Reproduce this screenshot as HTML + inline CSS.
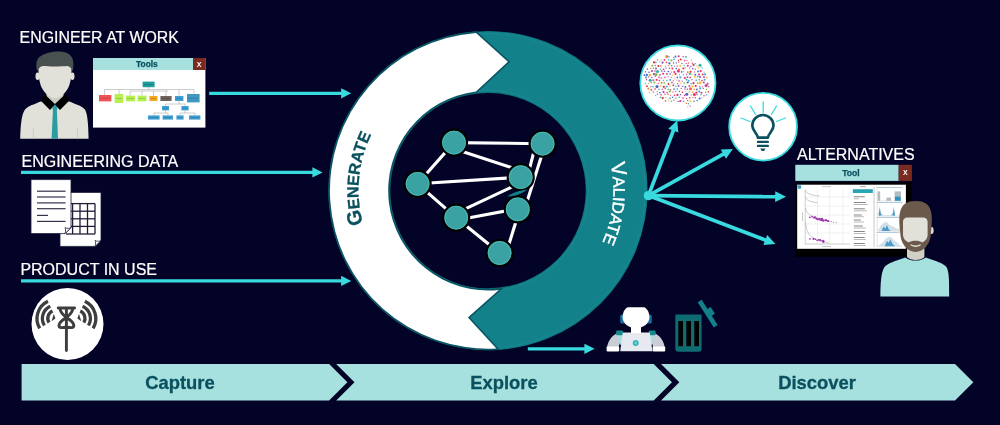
<!DOCTYPE html>
<html lang="en"><head><meta charset="utf-8"><title>Capture · Explore · Discover</title>
<style>
html,body{margin:0;padding:0;background:#030327;}
body{width:1000px;height:425px;overflow:hidden;font-family:"Liberation Sans",sans-serif;}
svg{display:block;will-change:transform;}
</style></head><body>
<svg width="1000" height="425" viewBox="0 0 1000 425" font-family="'Liberation Sans', sans-serif">
<rect width="1000" height="425" fill="#030327"/>
<text x="19.6" y="43.4" font-size="15.9" fill="#fff" stroke="#fff" stroke-width="0.2">ENGINEER AT WORK</text>
<text x="21.5" y="167" font-size="16" fill="#fff" stroke="#fff" stroke-width="0.2">ENGINEERING DATA</text>
<text x="20.4" y="274.6" font-size="16" fill="#fff" stroke="#fff" stroke-width="0.2">PRODUCT IN USE</text>
<text x="797" y="159.8" font-size="16" fill="#fff" stroke="#fff" stroke-width="0.2" textLength="117.6" lengthAdjust="spacingAndGlyphs">ALTERNATIVES</text>
<line x1="209.20" y1="93.30" x2="342.10" y2="93.30" stroke="#39dadf" stroke-width="3.2"/><polygon points="351.30,93.30 341.10,98.40 341.10,88.20" fill="#39dadf"/>
<line x1="21.00" y1="172.40" x2="313.40" y2="172.40" stroke="#39dadf" stroke-width="3.2"/><polygon points="322.60,172.40 312.40,177.50 312.40,167.30" fill="#39dadf"/>
<line x1="21.00" y1="280.90" x2="342.10" y2="280.90" stroke="#39dadf" stroke-width="3.2"/><polygon points="351.30,280.90 341.10,286.00 341.10,275.80" fill="#39dadf"/>
<line x1="527.80" y1="348.80" x2="585.40" y2="348.80" stroke="#39dadf" stroke-width="3.2"/><polygon points="594.60,348.80 584.40,353.90 584.40,343.70" fill="#39dadf"/>
<circle cx="488.0" cy="190.6" r="128.7" fill="none" stroke="#0c6671" stroke-width="61.999999999999986"/>
<circle cx="488.0" cy="190.6" r="128.7" fill="none" stroke="#12818a" stroke-width="60.79999999999998"/>
<circle cx="488.0" cy="190.6" r="157.1" fill="none" stroke="#1d8c93" stroke-width="1" opacity="0.7"/>
<circle cx="488.0" cy="190.6" r="100.3" fill="none" stroke="#1d8c93" stroke-width="1" opacity="0.7"/>
<path d="M476.00,32.96 L507.9,61.8 L476.00,91.42 A99.9,99.9 0 0 0 498.80,289.91 L467.9,317.5 L496.40,348.48 A158.1,158.1 0 0 1 476.00,32.96 Z" fill="#fff" stroke="#0a5564" stroke-width="3.2" stroke-linejoin="miter" paint-order="stroke"/>
<defs><path id="pg" d="M358.5,190.6 A129.5,129.5 0 1 1 617.5,190.6 A129.5,129.5 0 1 1 358.5,190.6"/><path id="pv" d="M488.0,65.1 A125.5,125.5 0 1 1 488.0,316.1 A125.5,125.5 0 1 1 488.0,65.1"/></defs>
<g transform="rotate(-15 488.0 190.6)"><text aria-label="GENERATE" font-weight="bold" fill="#0a505f" stroke="#0a505f" stroke-width="0.3" font-size="16.2"><textPath href="#pg" startOffset="0"><tspan font-size="20.3">G</tspan>ENERATE</textPath></text></g>
<g transform="rotate(-12.6 488.0 190.6)"><text aria-label="VALIDATE" fill="#fff" stroke="#fff" stroke-width="0.45" font-size="16.4"><textPath href="#pv" startOffset="197.13"><tspan font-size="20.5">V</tspan>ALIDATE</textPath></text></g>
<line x1="454" y1="142.6" x2="542.6" y2="143.7" stroke="#fff" stroke-width="3.1"/><line x1="454" y1="142.6" x2="417.6" y2="183.8" stroke="#fff" stroke-width="3.1"/><line x1="454" y1="148.7" x2="520.7" y2="170.6" stroke="#fff" stroke-width="3.1"/><line x1="417.6" y1="183.8" x2="520.7" y2="177.2" stroke="#fff" stroke-width="3.1"/><line x1="417.6" y1="183.8" x2="456.2" y2="217.7" stroke="#fff" stroke-width="3.1"/><line x1="456.2" y1="213.2" x2="520.7" y2="182.8" stroke="#fff" stroke-width="3.1"/><line x1="456.2" y1="220.3" x2="517.8" y2="208.6" stroke="#fff" stroke-width="3.1"/><line x1="456.2" y1="217.7" x2="499.6" y2="253" stroke="#fff" stroke-width="3.1"/><line x1="536" y1="143.7" x2="527.3" y2="177.2" stroke="#fff" stroke-width="3.1"/><line x1="519.8" y1="209.3" x2="506.2" y2="253" stroke="#fff" stroke-width="3.1"/><line x1="545.3" y1="144" x2="524.6" y2="209.3" stroke="#fff" stroke-width="3.1"/><circle cx="454" cy="142.6" r="13" fill="#3aa2a3" stroke="#000" stroke-width="2.2"/><circle cx="454" cy="142.6" r="11.4" fill="none" stroke="#4fbcbc" stroke-width="0.8"/><circle cx="542.6" cy="143.7" r="13" fill="#3aa2a3" stroke="#000" stroke-width="2.2"/><circle cx="542.6" cy="143.7" r="11.4" fill="none" stroke="#4fbcbc" stroke-width="0.8"/><circle cx="417.6" cy="183.8" r="13" fill="#3aa2a3" stroke="#000" stroke-width="2.2"/><circle cx="417.6" cy="183.8" r="11.4" fill="none" stroke="#4fbcbc" stroke-width="0.8"/><circle cx="520.7" cy="177.2" r="13" fill="#3aa2a3" stroke="#000" stroke-width="2.2"/><circle cx="520.7" cy="177.2" r="11.4" fill="none" stroke="#4fbcbc" stroke-width="0.8"/><circle cx="456.2" cy="217.7" r="13" fill="#3aa2a3" stroke="#000" stroke-width="2.2"/><circle cx="456.2" cy="217.7" r="11.4" fill="none" stroke="#4fbcbc" stroke-width="0.8"/><circle cx="517.8" cy="209.3" r="13" fill="#3aa2a3" stroke="#000" stroke-width="2.2"/><circle cx="517.8" cy="209.3" r="11.4" fill="none" stroke="#4fbcbc" stroke-width="0.8"/><circle cx="499.6" cy="253" r="13" fill="#3aa2a3" stroke="#000" stroke-width="2.2"/><circle cx="499.6" cy="253" r="11.4" fill="none" stroke="#4fbcbc" stroke-width="0.8"/>
<path d="M507.5,196.4 C512,193 519,190.6 527.5,189.6 C523,193.4 515,196.6 507.5,196.4Z" fill="#12818a"/>
<line x1="648.40" y1="195.60" x2="673.69" y2="129.75" stroke="#39dadf" stroke-width="3.7"/><polygon points="677.20,120.60 678.37,132.62 668.29,128.75" fill="#39dadf"/>
<line x1="648.40" y1="195.60" x2="724.23" y2="153.64" stroke="#39dadf" stroke-width="3.7"/><polygon points="732.80,148.90 725.96,158.85 720.74,149.40" fill="#39dadf"/>
<line x1="648.40" y1="195.60" x2="776.20" y2="196.71" stroke="#39dadf" stroke-width="3.7"/><polygon points="786.00,196.80 775.15,202.11 775.25,191.31" fill="#39dadf"/>
<line x1="648.40" y1="195.60" x2="766.24" y2="240.42" stroke="#39dadf" stroke-width="3.7"/><polygon points="775.40,243.90 763.39,245.11 767.22,235.01" fill="#39dadf"/>
<circle cx="648.4" cy="195.6" r="4.7" fill="#39dadf"/>
<circle cx="677.9" cy="82.9" r="37.6" fill="#fff" stroke="#39dadf" stroke-width="1.8"/>
<path d="M666.8,56.6L669.0,56.7M669.0,56.7L668.7,59.8M673.6,57.3L675.5,56.5M675.5,56.5L678.7,56.2M675.5,56.5L674.0,59.3M678.7,56.2L680.6,59.4M683.1,56.4L686.0,56.8M683.1,56.4L684.6,60.6M657.6,60.0L654.0,62.3M657.6,60.0L659.8,62.1M661.1,60.0L664.5,59.8M661.1,60.0L659.8,62.1M664.5,59.8L662.6,62.6M668.7,59.8L669.4,63.4M671.4,60.4L674.0,59.3M671.4,60.4L669.4,63.4M671.4,60.4L673.6,63.0M674.0,59.3L673.6,63.0M684.6,60.6L687.0,60.6M684.6,60.6L686.2,63.5M654.0,62.3L655.9,62.4M654.0,62.3L652.3,65.8M654.0,62.3L655.2,65.5M655.9,62.4L655.2,65.5M662.6,62.6L660.8,65.9M669.4,63.4L671.6,65.8M676.4,62.9L677.1,66.1M678.8,62.0L680.2,65.9M681.9,63.4L686.2,63.5M681.9,63.4L680.2,65.9M686.2,63.5L684.2,65.3M688.4,63.0L687.8,65.7M692.3,63.1L695.3,63.6M652.3,65.8L655.2,65.5M655.2,65.5L656.0,68.6M658.4,65.9L656.0,68.6M660.8,65.9L660.4,69.2M665.5,66.3L663.5,69.3M665.5,66.3L669.5,68.3M668.4,65.5L671.6,65.8M668.4,65.5L666.0,68.1M671.6,65.8L672.4,68.5M677.1,66.1L679.1,69.2M680.2,65.9L684.2,65.3M680.2,65.9L683.4,68.5M684.2,65.3L685.2,67.9M687.8,65.7L685.2,67.9M690.9,66.4L693.6,64.9M690.9,66.4L692.7,68.7M693.6,64.9L692.7,68.7M660.4,69.2L661.8,71.0M660.4,69.2L664.4,71.3M666.0,68.1L664.4,71.3M669.5,68.3L672.4,68.5M669.5,68.3L668.3,71.6M672.4,68.5L674.3,72.0M676.3,68.6L678.4,70.9M679.1,69.2L683.4,68.5M679.1,69.2L681.7,71.9M683.4,68.5L685.2,67.9M692.7,68.7L695.3,69.1M695.3,69.1L694.6,72.0M698.1,68.0L702.1,67.9M702.1,67.9L700.7,71.1M645.5,71.8L649.0,72.3M645.5,71.8L644.4,75.2M645.5,71.8L646.9,74.9M649.0,72.3L652.0,71.1M655.0,71.0L653.9,74.2M655.0,71.0L656.0,74.4M657.5,71.5L653.9,74.2M661.8,71.0L663.1,73.7M664.4,71.3L668.3,71.6M668.3,71.6L671.4,72.0M671.4,72.0L670.1,74.0M674.3,72.0L678.4,70.9M674.3,72.0L675.5,73.9M678.4,70.9L675.5,73.9M678.4,70.9L679.4,74.8M681.7,71.9L679.4,74.8M683.7,71.5L686.6,74.5M690.6,71.7L694.6,72.0M690.6,71.7L689.8,73.8M690.6,71.7L691.9,74.5M694.6,72.0L691.9,74.5M694.6,72.0L695.3,74.8M698.0,71.5L700.7,71.1M704.1,72.1L705.1,74.3M644.4,75.2L646.9,74.9M646.9,74.9L649.8,75.1M646.9,74.9L648.6,76.9M653.9,74.2L656.0,74.4M653.9,74.2L655.2,76.6M656.0,74.4L660.0,74.9M656.0,74.4L659.0,77.4M660.0,74.9L663.1,73.7M660.0,74.9L661.3,77.9M663.1,73.7L666.9,73.8M663.1,73.7L664.9,77.4M666.9,73.8L668.3,76.7M672.6,74.9L675.2,78.1M686.6,74.5L687.5,77.1M689.8,73.8L687.5,77.1M691.9,74.5L695.3,74.8M695.3,74.8L697.7,76.6M699.1,74.5L697.7,76.6M702.7,74.6L700.0,77.0M646.0,77.4L646.5,79.8M648.6,76.9L651.8,77.4M648.6,76.9L646.5,79.8M651.8,77.4L653.2,80.2M655.2,76.6L653.2,80.2M661.3,77.9L664.9,77.4M661.3,77.9L659.4,80.5M661.3,77.9L663.3,80.4M664.9,77.4L668.3,76.7M664.9,77.4L663.3,80.4M668.3,76.7L666.9,80.5M671.3,77.3L675.2,78.1M671.3,77.3L673.3,80.8M675.2,78.1L677.4,77.4M675.2,78.1L673.3,80.8M677.4,77.4L679.1,81.0M680.4,77.3L679.1,81.0M684.8,78.0L687.5,77.1M687.5,77.1L686.5,79.7M690.3,77.6L686.5,79.7M690.3,77.6L688.7,80.7M694.7,76.8L697.7,76.6M694.7,76.8L696.2,80.2M697.7,76.6L696.2,80.2M697.7,76.6L699.3,79.7M704.0,77.1L706.8,77.6M704.0,77.1L702.0,80.6M706.8,77.6L704.6,79.8M650.2,80.2L653.2,80.2M653.2,80.2L656.7,79.8M656.7,79.8L659.4,80.5M656.7,79.8L654.4,82.5M666.9,80.5L668.5,84.0M670.2,79.9L673.3,80.8M670.2,79.9L668.5,84.0M673.3,80.8L676.8,80.0M673.3,80.8L671.9,82.6M673.3,80.8L673.8,84.0M676.8,80.0L677.7,83.7M682.2,81.1L680.7,83.2M686.5,79.7L688.7,80.7M688.7,80.7L692.0,79.7M688.7,80.7L687.7,82.5M688.7,80.7L691.1,83.8M692.0,79.7L696.2,80.2M696.2,80.2L693.5,83.2M699.3,79.7L702.0,80.6M704.6,79.8L703.8,82.5M645.3,83.7L648.5,83.5M648.5,83.5L651.3,82.6M648.5,83.5L650.9,86.7M654.4,82.5L658.3,83.3M658.3,83.3L661.6,82.7M658.3,83.3L657.0,86.6M658.3,83.3L660.4,86.0M661.6,82.7L660.4,86.0M664.2,82.8L668.5,84.0M668.5,84.0L671.9,82.6M668.5,84.0L670.0,86.0M671.9,82.6L673.2,85.5M673.8,84.0L677.7,83.7M673.8,84.0L670.0,86.0M677.7,83.7L678.6,85.9M680.7,83.2L684.3,83.1M680.7,83.2L678.6,85.9M680.7,83.2L682.8,86.4M684.3,83.1L687.7,82.5M684.3,83.1L682.8,86.4M691.1,83.8L689.4,85.9M693.5,83.2L692.6,86.3M700.0,82.7L703.8,82.5M700.0,82.7L702.4,86.6M703.8,82.5L706.1,85.4M707.6,83.7L708.8,86.6M647.0,86.2L648.3,88.5M650.9,86.7L653.0,86.8M653.0,86.8L657.0,86.6M653.0,86.8L655.1,89.1M657.0,86.6L660.4,86.0M657.0,86.6L655.1,89.1M660.4,86.0L663.8,86.8M663.8,86.8L665.2,88.4M666.7,86.6L668.2,89.5M670.0,86.0L668.2,89.5M675.9,86.1L678.6,85.9M675.9,86.1L674.0,89.1M675.9,86.1L677.2,89.1M678.6,85.9L682.8,86.4M682.8,86.4L685.4,86.9M682.8,86.4L685.0,89.0M695.7,86.0L694.2,89.2M699.7,86.4L703.3,88.4M702.4,86.6L706.1,85.4M702.4,86.6L703.3,88.4M706.1,85.4L706.5,89.5M708.8,86.6L706.5,89.5M648.3,88.5L651.4,89.7M651.4,89.7L655.1,89.1M651.4,89.7L649.4,92.7M655.1,89.1L653.3,92.0M665.2,88.4L668.2,89.5M665.2,88.4L663.5,92.0M668.2,89.5L670.5,89.8M670.5,89.8L673.1,92.0M677.2,89.1L675.7,91.3M681.2,88.4L679.4,91.4M681.2,88.4L682.5,92.3M685.0,89.0L687.5,89.3M685.0,89.0L682.5,92.3M687.5,89.3L690.5,88.8M687.5,89.3L685.8,91.6M687.5,89.3L689.3,91.9M690.5,88.8L694.2,89.2M690.5,88.8L692.8,92.1M696.9,89.4L700.2,88.3M700.2,88.3L703.3,88.4M700.2,88.3L699.2,91.6M706.5,89.5L708.4,91.7M653.3,92.0L657.4,91.6M653.3,92.0L655.7,95.6M663.5,92.0L664.9,94.3M667.1,92.5L668.1,94.3M667.1,92.5L670.6,95.2M669.8,91.4L673.1,92.0M673.1,92.0L670.6,95.2M679.4,91.4L680.5,94.7M682.5,92.3L680.5,94.7M682.5,92.3L684.6,95.5M685.8,91.6L689.3,91.9M689.3,91.9L692.8,92.1M689.3,91.9L686.8,94.3M689.3,91.9L691.2,95.1M696.4,92.7L699.2,91.6M699.2,91.6L701.5,92.7M708.4,91.7L706.7,95.0M655.7,95.6L657.5,94.2M657.5,94.2L661.1,94.8M661.1,94.8L664.9,94.3M661.1,94.8L662.7,98.1M664.9,94.3L668.1,94.3M664.9,94.3L662.7,98.1M668.1,94.3L670.6,95.2M668.1,94.3L670.0,98.2M670.6,95.2L674.6,95.2M674.6,95.2L677.5,94.9M674.6,95.2L672.5,97.3M674.6,95.2L675.9,98.2M677.5,94.9L675.9,98.2M677.5,94.9L679.2,97.3M680.5,94.7L684.6,95.5M684.6,95.5L686.8,94.3M691.2,95.1L694.4,94.5M694.4,94.5L692.9,97.6M704.0,95.7L706.7,95.0M704.0,95.7L701.7,97.7M660.3,97.2L662.7,98.1M662.7,98.1L665.7,97.6M662.7,98.1L665.5,101.0M665.7,97.6L668.5,100.1M670.0,98.2L668.5,100.1M670.0,98.2L671.3,101.3M672.5,97.3L675.9,98.2M683.0,98.0L680.3,101.0M686.5,98.6L687.7,100.4M689.8,97.8L692.9,97.6M689.8,97.8L690.3,101.2M699.6,98.5L697.1,100.5M668.5,100.1L671.3,101.3M671.3,101.3L673.8,100.1M673.8,100.1L678.1,101.4M680.3,101.0L683.7,101.2M687.7,100.4L686.3,103.2M687.7,100.4L688.4,103.7M690.3,101.2L694.0,101.2M694.0,101.2L697.1,100.5M688.4,103.7L687.8,106.8" stroke="#d9d9e2" stroke-width="0.3" fill="none"/><circle cx="666.8" cy="56.6" r="1.5" fill="#f0862a"/><circle cx="669.0" cy="56.7" r="0.8" fill="#4aa8e0"/><circle cx="673.6" cy="57.3" r="0.6" fill="#2ab0a0"/><circle cx="675.5" cy="56.5" r="0.9" fill="#3b6fd4"/><circle cx="678.7" cy="56.2" r="1.0" fill="#c04090"/><circle cx="683.1" cy="56.4" r="0.7" fill="#e8336d"/><circle cx="686.0" cy="56.8" r="0.9" fill="#2ab0a0"/><circle cx="657.6" cy="60.0" r="0.7" fill="#e95aa8"/><circle cx="661.1" cy="60.0" r="0.55" fill="#7ac143"/><circle cx="664.5" cy="59.8" r="0.9" fill="#e8336d"/><circle cx="668.7" cy="59.8" r="0.7" fill="#2ab0a0"/><circle cx="671.4" cy="60.4" r="1.0" fill="#7ac143"/><circle cx="674.0" cy="59.3" r="0.9" fill="#4aa8e0"/><circle cx="678.4" cy="60.4" r="0.6" fill="#c04090"/><circle cx="680.6" cy="59.4" r="1.0" fill="#d93030"/><circle cx="684.6" cy="60.6" r="0.9" fill="#e95aa8"/><circle cx="687.0" cy="60.6" r="0.7" fill="#e95aa8"/><circle cx="691.4" cy="60.0" r="0.55" fill="#e8336d"/><circle cx="654.0" cy="62.3" r="1.1" fill="#d93030"/><circle cx="655.9" cy="62.4" r="0.8" fill="#4aa8e0"/><circle cx="659.8" cy="62.1" r="0.55" fill="#f0862a"/><circle cx="662.6" cy="62.6" r="1.1" fill="#8a4fc2"/><circle cx="666.5" cy="62.2" r="0.8" fill="#d93030"/><circle cx="669.4" cy="63.4" r="1.1" fill="#5060c0"/><circle cx="673.6" cy="63.0" r="0.7" fill="#d93030"/><circle cx="676.4" cy="62.9" r="0.6" fill="#5060c0"/><circle cx="678.8" cy="62.0" r="0.7" fill="#f06050"/><circle cx="681.9" cy="63.4" r="0.6" fill="#8a4fc2"/><circle cx="686.2" cy="63.5" r="0.6" fill="#e8336d"/><circle cx="688.4" cy="63.0" r="0.8" fill="#f06050"/><circle cx="692.3" cy="63.1" r="0.8" fill="#e95aa8"/><circle cx="695.3" cy="63.6" r="0.55" fill="#3b6fd4"/><circle cx="652.3" cy="65.8" r="1.0" fill="#7ac143"/><circle cx="655.2" cy="65.5" r="0.7" fill="#e95aa8"/><circle cx="658.4" cy="65.9" r="1.0" fill="#d93030"/><circle cx="660.8" cy="65.9" r="0.7" fill="#d93030"/><circle cx="665.5" cy="66.3" r="0.55" fill="#e95aa8"/><circle cx="668.4" cy="65.5" r="0.6" fill="#f0862a"/><circle cx="671.6" cy="65.8" r="0.8" fill="#2ab0a0"/><circle cx="674.4" cy="66.2" r="0.55" fill="#5060c0"/><circle cx="677.1" cy="66.1" r="0.7" fill="#e8336d"/><circle cx="680.2" cy="65.9" r="0.9" fill="#f2c12e"/><circle cx="684.2" cy="65.3" r="0.55" fill="#4aa8e0"/><circle cx="687.8" cy="65.7" r="1.0" fill="#e8336d"/><circle cx="690.9" cy="66.4" r="0.6" fill="#3b6fd4"/><circle cx="693.6" cy="64.9" r="1.1" fill="#c04090"/><circle cx="696.9" cy="66.0" r="0.7" fill="#f2c12e"/><circle cx="700.0" cy="65.2" r="1.5" fill="#2ab0a0"/><circle cx="647.4" cy="69.3" r="0.8" fill="#8a4fc2"/><circle cx="650.7" cy="68.4" r="0.7" fill="#f0862a"/><circle cx="653.5" cy="68.3" r="0.7" fill="#4aa8e0"/><circle cx="656.0" cy="68.6" r="1.0" fill="#8a4fc2"/><circle cx="660.4" cy="69.2" r="0.6" fill="#2ab0a0"/><circle cx="663.5" cy="69.3" r="0.8" fill="#e8336d"/><circle cx="666.0" cy="68.1" r="0.6" fill="#c04090"/><circle cx="669.5" cy="68.3" r="0.8" fill="#f06050"/><circle cx="672.4" cy="68.5" r="0.9" fill="#e8336d"/><circle cx="676.3" cy="68.6" r="0.8" fill="#5060c0"/><circle cx="679.1" cy="69.2" r="0.9" fill="#f0862a"/><circle cx="683.4" cy="68.5" r="1.1" fill="#e8336d"/><circle cx="685.2" cy="67.9" r="0.8" fill="#f2c12e"/><circle cx="689.7" cy="67.9" r="0.7" fill="#e8336d"/><circle cx="692.7" cy="68.7" r="0.8" fill="#8a4fc2"/><circle cx="695.3" cy="69.1" r="0.6" fill="#d93030"/><circle cx="698.1" cy="68.0" r="0.7" fill="#f2c12e"/><circle cx="702.1" cy="67.9" r="0.7" fill="#4aa8e0"/><circle cx="645.5" cy="71.8" r="0.7" fill="#e8336d"/><circle cx="649.0" cy="72.3" r="0.8" fill="#8a4fc2"/><circle cx="652.0" cy="71.1" r="1.0" fill="#8a4fc2"/><circle cx="655.0" cy="71.0" r="0.8" fill="#e8336d"/><circle cx="657.5" cy="71.5" r="1.5" fill="#2ab0a0"/><circle cx="661.8" cy="71.0" r="0.7" fill="#5060c0"/><circle cx="664.4" cy="71.3" r="0.8" fill="#8a4fc2"/><circle cx="668.3" cy="71.6" r="0.8" fill="#5060c0"/><circle cx="671.4" cy="72.0" r="0.6" fill="#e8336d"/><circle cx="674.3" cy="72.0" r="1.0" fill="#e8336d"/><circle cx="678.4" cy="70.9" r="1.5" fill="#e8336d"/><circle cx="681.7" cy="71.9" r="0.8" fill="#5060c0"/><circle cx="683.7" cy="71.5" r="0.55" fill="#f0862a"/><circle cx="687.7" cy="72.2" r="1.0" fill="#f0862a"/><circle cx="690.6" cy="71.7" r="1.0" fill="#d93030"/><circle cx="694.6" cy="72.0" r="0.55" fill="#e8336d"/><circle cx="698.0" cy="71.5" r="0.9" fill="#3b6fd4"/><circle cx="700.7" cy="71.1" r="1.1" fill="#e8336d"/><circle cx="704.1" cy="72.1" r="0.6" fill="#7ac143"/><circle cx="644.4" cy="75.2" r="0.9" fill="#3b6fd4"/><circle cx="646.9" cy="74.9" r="1.1" fill="#3b6fd4"/><circle cx="649.8" cy="75.1" r="1.0" fill="#f0862a"/><circle cx="653.9" cy="74.2" r="1.1" fill="#c04090"/><circle cx="656.0" cy="74.4" r="1.5" fill="#7ac143"/><circle cx="660.0" cy="74.9" r="0.8" fill="#c04090"/><circle cx="663.1" cy="73.7" r="1.0" fill="#e8336d"/><circle cx="666.9" cy="73.8" r="0.9" fill="#e8336d"/><circle cx="670.1" cy="74.0" r="0.8" fill="#5060c0"/><circle cx="672.6" cy="74.9" r="0.55" fill="#f2c12e"/><circle cx="675.5" cy="73.9" r="1.1" fill="#e8336d"/><circle cx="679.4" cy="74.8" r="0.6" fill="#e95aa8"/><circle cx="683.2" cy="74.8" r="0.6" fill="#3b6fd4"/><circle cx="686.6" cy="74.5" r="0.7" fill="#e95aa8"/><circle cx="689.8" cy="73.8" r="1.1" fill="#2ab0a0"/><circle cx="691.9" cy="74.5" r="0.7" fill="#f2c12e"/><circle cx="695.3" cy="74.8" r="1.0" fill="#3b6fd4"/><circle cx="699.1" cy="74.5" r="1.0" fill="#e8336d"/><circle cx="702.7" cy="74.6" r="1.0" fill="#e8336d"/><circle cx="705.1" cy="74.3" r="1.1" fill="#4aa8e0"/><circle cx="646.0" cy="77.4" r="1.1" fill="#4aa8e0"/><circle cx="648.6" cy="76.9" r="0.6" fill="#e8336d"/><circle cx="651.8" cy="77.4" r="0.7" fill="#5060c0"/><circle cx="655.2" cy="76.6" r="0.6" fill="#c04090"/><circle cx="659.0" cy="77.4" r="0.9" fill="#e95aa8"/><circle cx="661.3" cy="77.9" r="0.55" fill="#d93030"/><circle cx="664.9" cy="77.4" r="0.8" fill="#e95aa8"/><circle cx="668.3" cy="76.7" r="0.55" fill="#8a4fc2"/><circle cx="671.3" cy="77.3" r="0.6" fill="#e95aa8"/><circle cx="675.2" cy="78.1" r="0.6" fill="#f2c12e"/><circle cx="677.4" cy="77.4" r="0.8" fill="#3b6fd4"/><circle cx="680.4" cy="77.3" r="1.1" fill="#4aa8e0"/><circle cx="684.8" cy="78.0" r="1.1" fill="#e8336d"/><circle cx="687.5" cy="77.1" r="0.9" fill="#8a4fc2"/><circle cx="690.3" cy="77.6" r="0.8" fill="#e8336d"/><circle cx="694.7" cy="76.8" r="0.9" fill="#f2c12e"/><circle cx="697.7" cy="76.6" r="0.8" fill="#2ab0a0"/><circle cx="700.0" cy="77.0" r="1.0" fill="#8a4fc2"/><circle cx="704.0" cy="77.1" r="1.1" fill="#e95aa8"/><circle cx="706.8" cy="77.6" r="0.9" fill="#f2c12e"/><circle cx="646.5" cy="79.8" r="0.7" fill="#c04090"/><circle cx="650.2" cy="80.2" r="1.5" fill="#2ab0a0"/><circle cx="653.2" cy="80.2" r="1.0" fill="#e95aa8"/><circle cx="656.7" cy="79.8" r="1.1" fill="#e8336d"/><circle cx="659.4" cy="80.5" r="0.8" fill="#e8336d"/><circle cx="663.3" cy="80.4" r="0.55" fill="#2ab0a0"/><circle cx="666.9" cy="80.5" r="0.7" fill="#4aa8e0"/><circle cx="670.2" cy="79.9" r="0.8" fill="#3b6fd4"/><circle cx="673.3" cy="80.8" r="0.55" fill="#d93030"/><circle cx="676.8" cy="80.0" r="0.6" fill="#f06050"/><circle cx="679.1" cy="81.0" r="0.8" fill="#e8336d"/><circle cx="682.2" cy="81.1" r="0.7" fill="#8a4fc2"/><circle cx="686.5" cy="79.7" r="0.9" fill="#2ab0a0"/><circle cx="688.7" cy="80.7" r="0.9" fill="#4aa8e0"/><circle cx="692.0" cy="79.7" r="0.6" fill="#3b6fd4"/><circle cx="696.2" cy="80.2" r="0.8" fill="#2ab0a0"/><circle cx="699.3" cy="79.7" r="0.7" fill="#f06050"/><circle cx="702.0" cy="80.6" r="0.8" fill="#e8336d"/><circle cx="704.6" cy="79.8" r="1.0" fill="#4aa8e0"/><circle cx="645.3" cy="83.7" r="0.6" fill="#2ab0a0"/><circle cx="648.5" cy="83.5" r="0.55" fill="#7ac143"/><circle cx="651.3" cy="82.6" r="0.7" fill="#e8336d"/><circle cx="654.4" cy="82.5" r="1.0" fill="#7ac143"/><circle cx="658.3" cy="83.3" r="0.6" fill="#e8336d"/><circle cx="661.6" cy="82.7" r="1.0" fill="#f0862a"/><circle cx="664.2" cy="82.8" r="0.9" fill="#7ac143"/><circle cx="668.5" cy="84.0" r="0.9" fill="#d93030"/><circle cx="671.9" cy="82.6" r="0.8" fill="#c04090"/><circle cx="673.8" cy="84.0" r="0.6" fill="#5060c0"/><circle cx="677.7" cy="83.7" r="0.8" fill="#e95aa8"/><circle cx="680.7" cy="83.2" r="0.6" fill="#f2c12e"/><circle cx="684.3" cy="83.1" r="0.8" fill="#7ac143"/><circle cx="687.7" cy="82.5" r="1.1" fill="#5060c0"/><circle cx="691.1" cy="83.8" r="0.7" fill="#2ab0a0"/><circle cx="693.5" cy="83.2" r="1.1" fill="#e8336d"/><circle cx="697.6" cy="83.1" r="0.7" fill="#d93030"/><circle cx="700.0" cy="82.7" r="1.5" fill="#f2c12e"/><circle cx="703.8" cy="82.5" r="0.9" fill="#c04090"/><circle cx="707.6" cy="83.7" r="1.0" fill="#c04090"/><circle cx="647.0" cy="86.2" r="0.9" fill="#d93030"/><circle cx="650.9" cy="86.7" r="0.6" fill="#5060c0"/><circle cx="653.0" cy="86.8" r="0.7" fill="#2ab0a0"/><circle cx="657.0" cy="86.6" r="1.5" fill="#5060c0"/><circle cx="660.4" cy="86.0" r="0.7" fill="#f2c12e"/><circle cx="663.8" cy="86.8" r="1.1" fill="#d93030"/><circle cx="666.7" cy="86.6" r="1.0" fill="#4aa8e0"/><circle cx="670.0" cy="86.0" r="0.7" fill="#f2c12e"/><circle cx="673.2" cy="85.5" r="0.8" fill="#d93030"/><circle cx="675.9" cy="86.1" r="0.7" fill="#2ab0a0"/><circle cx="678.6" cy="85.9" r="0.9" fill="#8a4fc2"/><circle cx="682.8" cy="86.4" r="0.6" fill="#8a4fc2"/><circle cx="685.4" cy="86.9" r="0.9" fill="#3b6fd4"/><circle cx="689.4" cy="85.9" r="0.9" fill="#e8336d"/><circle cx="692.6" cy="86.3" r="1.1" fill="#f2c12e"/><circle cx="695.7" cy="86.0" r="1.1" fill="#d93030"/><circle cx="699.7" cy="86.4" r="0.6" fill="#f06050"/><circle cx="702.4" cy="86.6" r="0.6" fill="#e95aa8"/><circle cx="706.1" cy="85.4" r="1.5" fill="#c04090"/><circle cx="708.8" cy="86.6" r="0.8" fill="#e95aa8"/><circle cx="648.3" cy="88.5" r="1.0" fill="#f0862a"/><circle cx="651.4" cy="89.7" r="1.0" fill="#f06050"/><circle cx="655.1" cy="89.1" r="0.8" fill="#e8336d"/><circle cx="659.0" cy="89.2" r="0.7" fill="#3b6fd4"/><circle cx="662.3" cy="89.3" r="0.7" fill="#c04090"/><circle cx="665.2" cy="88.4" r="0.8" fill="#f06050"/><circle cx="668.2" cy="89.5" r="0.7" fill="#2ab0a0"/><circle cx="670.5" cy="89.8" r="0.8" fill="#f06050"/><circle cx="674.0" cy="89.1" r="0.8" fill="#5060c0"/><circle cx="677.2" cy="89.1" r="0.8" fill="#2ab0a0"/><circle cx="681.2" cy="88.4" r="0.55" fill="#8a4fc2"/><circle cx="685.0" cy="89.0" r="0.8" fill="#e95aa8"/><circle cx="687.5" cy="89.3" r="0.7" fill="#e8336d"/><circle cx="690.5" cy="88.8" r="1.5" fill="#f06050"/><circle cx="694.2" cy="89.2" r="0.8" fill="#f0862a"/><circle cx="696.9" cy="89.4" r="0.9" fill="#5060c0"/><circle cx="700.2" cy="88.3" r="1.1" fill="#4aa8e0"/><circle cx="703.3" cy="88.4" r="0.6" fill="#c04090"/><circle cx="706.5" cy="89.5" r="0.7" fill="#7ac143"/><circle cx="649.4" cy="92.7" r="0.8" fill="#f2c12e"/><circle cx="653.3" cy="92.0" r="0.8" fill="#e95aa8"/><circle cx="657.4" cy="91.6" r="0.7" fill="#7ac143"/><circle cx="659.9" cy="92.7" r="0.8" fill="#3b6fd4"/><circle cx="663.5" cy="92.0" r="1.1" fill="#c04090"/><circle cx="667.1" cy="92.5" r="0.8" fill="#e8336d"/><circle cx="669.8" cy="91.4" r="1.1" fill="#7ac143"/><circle cx="673.1" cy="92.0" r="0.6" fill="#e8336d"/><circle cx="675.7" cy="91.3" r="0.6" fill="#e8336d"/><circle cx="679.4" cy="91.4" r="0.7" fill="#8a4fc2"/><circle cx="682.5" cy="92.3" r="0.8" fill="#e8336d"/><circle cx="685.8" cy="91.6" r="0.6" fill="#f2c12e"/><circle cx="689.3" cy="91.9" r="0.7" fill="#7ac143"/><circle cx="692.8" cy="92.1" r="1.1" fill="#f2c12e"/><circle cx="696.4" cy="92.7" r="1.1" fill="#e8336d"/><circle cx="699.2" cy="91.6" r="1.1" fill="#4aa8e0"/><circle cx="701.5" cy="92.7" r="1.0" fill="#c04090"/><circle cx="705.8" cy="92.2" r="0.6" fill="#d93030"/><circle cx="708.4" cy="91.7" r="0.7" fill="#d93030"/><circle cx="655.7" cy="95.6" r="0.55" fill="#e95aa8"/><circle cx="657.5" cy="94.2" r="0.6" fill="#8a4fc2"/><circle cx="661.1" cy="94.8" r="0.8" fill="#c04090"/><circle cx="664.9" cy="94.3" r="0.8" fill="#e95aa8"/><circle cx="668.1" cy="94.3" r="0.7" fill="#f06050"/><circle cx="670.6" cy="95.2" r="0.55" fill="#f06050"/><circle cx="674.6" cy="95.2" r="0.8" fill="#e8336d"/><circle cx="677.5" cy="94.9" r="1.1" fill="#e8336d"/><circle cx="680.5" cy="94.7" r="0.6" fill="#5060c0"/><circle cx="684.6" cy="95.5" r="0.8" fill="#e8336d"/><circle cx="686.8" cy="94.3" r="1.5" fill="#5060c0"/><circle cx="691.2" cy="95.1" r="0.7" fill="#e95aa8"/><circle cx="694.4" cy="94.5" r="1.5" fill="#e8336d"/><circle cx="697.1" cy="94.6" r="0.7" fill="#5060c0"/><circle cx="701.0" cy="94.7" r="0.7" fill="#2ab0a0"/><circle cx="704.0" cy="95.7" r="0.7" fill="#e8336d"/><circle cx="706.7" cy="95.0" r="0.7" fill="#4aa8e0"/><circle cx="660.3" cy="97.2" r="0.8" fill="#2ab0a0"/><circle cx="662.7" cy="98.1" r="1.1" fill="#d93030"/><circle cx="665.7" cy="97.6" r="0.7" fill="#f2c12e"/><circle cx="670.0" cy="98.2" r="0.7" fill="#3b6fd4"/><circle cx="672.5" cy="97.3" r="0.8" fill="#3b6fd4"/><circle cx="675.9" cy="98.2" r="0.8" fill="#7ac143"/><circle cx="679.2" cy="97.3" r="0.8" fill="#4aa8e0"/><circle cx="683.0" cy="98.0" r="0.8" fill="#e8336d"/><circle cx="686.5" cy="98.6" r="0.7" fill="#e8336d"/><circle cx="689.8" cy="97.8" r="0.8" fill="#c04090"/><circle cx="692.9" cy="97.6" r="0.7" fill="#f06050"/><circle cx="695.3" cy="97.7" r="0.7" fill="#e8336d"/><circle cx="699.6" cy="98.5" r="1.1" fill="#3b6fd4"/><circle cx="701.7" cy="97.7" r="0.55" fill="#f0862a"/><circle cx="665.5" cy="101.0" r="0.8" fill="#e8336d"/><circle cx="668.5" cy="100.1" r="0.6" fill="#f2c12e"/><circle cx="671.3" cy="101.3" r="0.7" fill="#7ac143"/><circle cx="673.8" cy="100.1" r="0.7" fill="#f06050"/><circle cx="678.1" cy="101.4" r="0.7" fill="#8a4fc2"/><circle cx="680.3" cy="101.0" r="1.1" fill="#c04090"/><circle cx="683.7" cy="101.2" r="0.6" fill="#5060c0"/><circle cx="687.7" cy="100.4" r="0.55" fill="#e8336d"/><circle cx="690.3" cy="101.2" r="0.9" fill="#f2c12e"/><circle cx="694.0" cy="101.2" r="0.7" fill="#3b6fd4"/><circle cx="697.1" cy="100.5" r="0.7" fill="#3b6fd4"/><circle cx="686.3" cy="103.2" r="0.8" fill="#f0862a"/><circle cx="688.4" cy="103.7" r="0.7" fill="#2ab0a0"/><circle cx="687.8" cy="106.8" r="0.55" fill="#f0862a"/><circle cx="690.2" cy="106.1" r="0.7" fill="#c04090"/>
<circle cx="763.1" cy="126.7" r="33.9" fill="#fff" stroke="#39dadf" stroke-width="1.8"/>
<g fill="none" stroke="#0a505f" stroke-width="2.7" stroke-linecap="round"><path d="M757.8,137.6 C757.8,133.4 752.3,131.6 752.3,125.6 A10.6,10.6 0 0 1 773.5,125.6 C773.5,131.6 768,133.4 768,137.6 Z" stroke-linejoin="round"/><path d="M758,141.9 H767.8 M758,145.9 H767.8" stroke-width="2.4"/></g>
<path d="M760.2,148.6 H765.6 L764,151 H761.8Z" fill="#0a505f"/>
<g stroke="#39dadf" stroke-width="1.3" stroke-linecap="round"><path d="M763.2,102 V112.5 M750.5,106 L755.5,114.5 M776.5,106 L771.5,114.5 M741,118 L750,121.5 M785.5,118 L776.5,121.5"/></g>
<rect x="93" y="58" width="112.4" height="69.6" fill="#fff"/>
<rect x="93" y="58" width="100" height="12" fill="#a6e1e0"/>
<rect x="193" y="58" width="12.4" height="12" fill="#7a2a1f"/>
<text x="146.9" y="67.1" font-size="8.4" font-weight="bold" fill="#0a505f" stroke="#0a505f" stroke-width="0.25" text-anchor="middle">Tools</text>
<text x="199.2" y="66.8" font-size="7" font-weight="bold" fill="#fff" text-anchor="middle">X</text>
<path d="M148.6,87 V89.5 M104.5,95 V89.5 H194 V94 M119,94 V89.5 M130,95.5 V91 H168 M142,95.5 V91 M153.5,96 V91 M166,96 V91 M179,96 V89.5 M179,101 V104 M165.5,106 V104 H185 V106 M154,115.5 V113 H168 V115.5 M165.5,110.5 V113 M180,115.5 V113 H195 V115.5 M185,110.5 V113" fill="none" stroke="#a4a4a4" stroke-width="0.55"/><rect x="142.6" y="81.6" width="12" height="5.6" fill="#1f9c9c"/><rect x="143.79999999999998" y="84.05" width="9.6" height="0.7" fill="#0d5a5a" opacity="0.55"/><rect x="99" y="95" width="12.4" height="6.4" fill="#f05456"/><rect x="100.2" y="97.85" width="10.0" height="0.7" fill="#a03030" opacity="0.55"/><rect x="114.6" y="94" width="8.6" height="9" fill="#b9ef52"/><rect x="115.8" y="98.15" width="6.2" height="0.7" fill="#6a8a30" opacity="0.55"/><rect x="126" y="95.6" width="9" height="5.8" fill="#b3f04e"/><rect x="127.2" y="98.15" width="6.6" height="0.7" fill="#6a8a30" opacity="0.55"/><rect x="137.6" y="95.6" width="8.8" height="5.8" fill="#b3f04e"/><rect x="138.79999999999998" y="98.15" width="6.4" height="0.7" fill="#6a8a30" opacity="0.55"/><rect x="149.4" y="96" width="8" height="5" fill="#f2a922"/><rect x="150.6" y="98.15" width="5.6" height="0.7" fill="#8a5a10" opacity="0.55"/><rect x="160.4" y="96" width="11.2" height="5" fill="#6f625c"/><rect x="161.6" y="98.15" width="8.8" height="0.7" fill="#3a3230" opacity="0.55"/><rect x="175" y="96" width="8.4" height="5" fill="#3f9fd0"/><rect x="176.2" y="98.15" width="6.0" height="0.7" fill="#1f5f90" opacity="0.55"/><rect x="187" y="94" width="12.6" height="8.4" fill="#4297c2"/><rect x="188.2" y="97.85" width="10.2" height="0.7" fill="#1f5f90" opacity="0.55"/><rect x="162" y="106" width="7" height="4.4" fill="#3f9fd0"/><rect x="163.2" y="107.85" width="4.6" height="0.7" fill="#1f5f90" opacity="0.55"/><rect x="181.4" y="106" width="7.2" height="4.4" fill="#3f9fd0"/><rect x="182.6" y="107.85" width="4.8" height="0.7" fill="#1f5f90" opacity="0.55"/><rect x="148" y="115.4" width="11.6" height="4.2" fill="#3f9fd0"/><rect x="149.2" y="117.15" width="9.2" height="0.7" fill="#1f5f90" opacity="0.55"/><rect x="162.6" y="115.4" width="10.4" height="4.2" fill="#3f9fd0"/><rect x="163.79999999999998" y="117.15" width="8.0" height="0.7" fill="#1f5f90" opacity="0.55"/><rect x="176.4" y="115.4" width="7.2" height="4.2" fill="#3f9fd0"/><rect x="177.6" y="117.15" width="4.8" height="0.7" fill="#1f5f90" opacity="0.55"/><rect x="189" y="115.4" width="11.4" height="4.2" fill="#3f9fd0"/><rect x="190.2" y="117.15" width="9.0" height="0.7" fill="#1f5f90" opacity="0.55"/>
<g>
<path d="M20.2,138.7 C20.5,126 21.4,114.5 25,109.6 C27.6,106.4 33.6,104.4 41.5,101.3 L55,108 L68.5,101.3 C76.4,104.4 82.4,106.4 85,109.6 C87.8,114.5 88.3,126 88.6,138.7 Z" fill="#e1e1d9"/>
<path d="M46.5,92 H63.5 V100 L55,105 L46.5,100 Z" fill="#cdcdc4"/>
<ellipse cx="37.6" cy="76.2" rx="2.1" ry="3.8" fill="#e1e1d9"/><ellipse cx="72.4" cy="76.2" rx="2.1" ry="3.8" fill="#e1e1d9"/>
<path d="M38.6,64.5 H71.4 C71.8,72 71.4,79 69.4,85 C67.2,91.5 61,98.2 55,98.2 C49,98.2 42.8,91.5 40.6,85 C38.6,79 38.2,72 38.6,64.5 Z" fill="#e1e1d9"/>
<path d="M37.2,71.5 C35.4,63.5 36.4,58.5 41,56 C44.5,53.2 52,51.4 59.5,51.5 C67.5,51.6 72.6,55.5 73.2,61.5 C73.6,65.5 73.2,69 72.6,71.5 C71.8,68.6 70.4,66.6 67.4,66 C60,66.6 49,66.6 42.6,66 C39.8,66.6 38.2,68.6 37.2,71.5 Z" fill="#495050"/>
<path d="M44.6,94.2 L54.9,104 L65.4,94.2 L69.4,100.6 L60,110 L54.9,104.8 L50,110 L40.6,100.6 Z" fill="#000"/>
<path d="M54.9,104.2 L57.6,107.4 L56.9,110.6 L58,138.7 H51.6 L52.9,110.6 L52.2,107.4 Z" fill="#2b9ca0"/>
<path d="M33.4,138.7 V127.5 M77.4,138.7 V127.5" stroke="#c9c9c0" stroke-width="0.9" fill="none"/>
</g>
<g>
<path d="M60,192.4 H101 V240.5 L95,246.4 H60 Z" fill="#fff" stroke="#1a1a3a" stroke-width="0.8"/>
<path d="M95,246.4 C96,244 95.5,241.5 95,240.5 C97,241.5 99.5,241.5 101,240.5 Z" fill="#fff" stroke="#1a1a3a" stroke-width="0.8"/>
<g stroke="#1e1e38" stroke-width="1.3" fill="none"><line x1="72.6" y1="203.6" x2="72.6" y2="234"/><line x1="80" y1="203.6" x2="80" y2="234"/><line x1="87.5" y1="203.6" x2="87.5" y2="234"/><line x1="95" y1="203.6" x2="95" y2="234"/><line x1="66" y1="203.6" x2="95" y2="203.6"/><line x1="66" y1="211.2" x2="95" y2="211.2"/><line x1="66" y1="218.8" x2="95" y2="218.8"/><line x1="66" y1="226.4" x2="95" y2="226.4"/><line x1="66" y1="234" x2="95" y2="234"/></g>
<path d="M31,179.6 H71 V227.6 L65,233.6 H31 Z" fill="#fff" stroke="#1a1a3a" stroke-width="0.8"/>
<path d="M65,233.6 C66,231 65.5,228.5 65,227.6 C67,228.6 69.5,228.6 71,227.6 Z" fill="#fff" stroke="#1a1a3a" stroke-width="0.8"/>
<g stroke="#34344c" stroke-width="1.2" fill="none"><line x1="37" y1="191.2" x2="65.6" y2="191.2"/><line x1="37" y1="197" x2="65.6" y2="197"/><line x1="37" y1="202.9" x2="65.6" y2="202.9"/><line x1="37" y1="208.7" x2="65.6" y2="208.7"/><line x1="37" y1="215.4" x2="48" y2="215.4"/><line x1="37" y1="221.4" x2="65.6" y2="221.4"/></g>
</g>
<circle cx="67.5" cy="324" r="36" fill="#fff"/>
<path d="M48.97,322.72 A8.2,8.2 0 0 1 52.53,311.07" fill="none" stroke="#3e3e3e" stroke-width="3.3"/><path d="M44.34,325.50 A13.6,13.6 0 0 1 50.25,306.17" fill="none" stroke="#3e3e3e" stroke-width="3.3"/><path d="M39.71,328.29 A19.0,19.0 0 0 1 47.97,301.28" fill="none" stroke="#3e3e3e" stroke-width="3.3"/><path d="M55.40,318.5 L51.54,321.18 L53.80,313.79 Z" fill="#3e3e3e"/><path d="M83.83,322.72 A8.2,8.2 0 0 0 80.27,311.07" fill="none" stroke="#3e3e3e" stroke-width="3.3"/><path d="M88.46,325.50 A13.6,13.6 0 0 0 82.55,306.17" fill="none" stroke="#3e3e3e" stroke-width="3.3"/><path d="M93.09,328.29 A19.0,19.0 0 0 0 84.83,301.28" fill="none" stroke="#3e3e3e" stroke-width="3.3"/><path d="M77.40,318.5 L81.26,321.18 L79.00,313.79 Z" fill="#3e3e3e"/><path d="M58.2,308 H74.6 M60,308.4 C60.3,313 63.5,315 66.4,317.6 C69.3,315 72.5,313 72.8,308.4 M66.4,317.6 C62.5,320 59.2,322.5 59,325.4 C59,328.2 62.5,328 66.4,326.8 C70.3,328 73.8,328.2 73.8,325.4 C73.6,322.5 70.3,320 66.4,317.6 M66.4,308.6 V350.6" fill="none" stroke="#3e3e3e" stroke-width="2.9" stroke-linecap="round" stroke-linejoin="round"/>
<g>
<path d="M616.4,333.5 C610,337 607.6,343 607,347.5 H618.6 C619.4,343.5 620.6,340.5 623,338.5 L622.8,333.5 Z" fill="#c9cdd6"/>
<path d="M655.4,333.5 C661.8,337 664.2,343 664.8,347.5 H653.2 C652.4,343.5 651.2,340.5 648.8,338.5 L649,333.5 Z" fill="#c9cdd6"/>
<rect x="606.6" y="346.5" width="12.6" height="5" rx="1" fill="#fff"/><rect x="652.6" y="346.5" width="12.6" height="5" rx="1" fill="#fff"/>
<path d="M617.4,334.6 H623 L622.8,343.6 L620.2,345 Z" fill="#a4e2e0"/><path d="M654.4,334.6 H648.8 L649,343.6 L651.6,345 Z" fill="#a4e2e0"/>
<rect x="616.2" y="330.4" width="6.8" height="4.8" rx="1" fill="#168a8c"/><rect x="648.8" y="330.4" width="6.8" height="4.8" rx="1" fill="#168a8c"/>
<rect x="620.2" y="314.6" width="4.5" height="9" rx="1.6" fill="#1a6c9c"/><rect x="647.3" y="314.6" width="4.5" height="9" rx="1.6" fill="#1a6c9c"/>
<path d="M622.8,332.4 H649.8 L652.4,351.3 H620.2 Z" fill="#e6e9f0"/>
<rect x="631" y="322" width="10" height="11" fill="#fff"/>
<path d="M627.6,307.2 H644.4 C647.6,309 649.4,313 649.4,317.2 C649.4,323.4 643.4,328 636,328 C628.6,328 622.6,323.4 622.6,317.2 C622.6,313 624.4,309 627.6,307.2 Z" fill="#fff"/>
<circle cx="635.7" cy="343" r="3" fill="#35b3bb"/><circle cx="635.7" cy="343" r="1.4" fill="#6fd0d4"/>
</g>
<path d="M676.3,314.4 H700.6 Q701.6,314.4 701.6,315.4 V348.8 Q701.6,351.8 698.6,351.8 H678.3 Q675.3,351.8 675.3,348.8 V315.4 Q675.3,314.4 676.3,314.4 Z" fill="#0f6b72"/>
<rect x="678.3" y="321" width="4.7" height="25.2" fill="#000"/>
<rect x="686.3" y="321" width="4.7" height="25.2" fill="#000"/>
<rect x="694.3" y="321" width="4.7" height="25.2" fill="#000"/>
<g transform="translate(707.7,313.6) rotate(57.8)"><rect x="-15" y="-2.3" width="30" height="4.6" fill="#12818a"/><rect x="-4" y="-6" width="8" height="4.2" fill="#12818a"/></g>
<rect x="795.3" y="182.3" width="116.3" height="74.5" fill="#000"/>
<rect x="797.2" y="184.7" width="108.7" height="64.1" fill="#fff"/>
<g fill="none" stroke="#dcdcdc" stroke-width="0.4"><line x1="817.5" y1="189.5" x2="817.5" y2="244"/><line x1="829.7" y1="189.5" x2="829.7" y2="244"/><line x1="842.8" y1="189.5" x2="842.8" y2="244"/><line x1="805.2" y1="197" x2="850" y2="197"/><line x1="805.2" y1="206" x2="850" y2="206"/><line x1="805.2" y1="215" x2="850" y2="215"/><line x1="805.2" y1="224" x2="850" y2="224"/><line x1="805.2" y1="233" x2="850" y2="233"/></g><path d="M805.2,189 V244 H850" fill="none" stroke="#9a9a9a" stroke-width="0.5"/><g fill="none" stroke="#a8a8a8" stroke-width="0.6"><path d="M805.6,190.5 C806.5,193.5 810,195 819.5,196"/><path d="M805.6,197 C806.5,200.5 810,202 817.5,202.6"/><path d="M805.6,208 C806.5,214 810,217.5 830.6,221.4"/><path d="M805.6,222 C806.5,234 810,239.5 828.8,243"/></g><circle cx="814.0" cy="217.8" r="0.85" fill="#9c2fb0"/><circle cx="816.5" cy="218.5" r="0.85" fill="#9c2fb0"/><circle cx="821.4" cy="218.7" r="0.85" fill="#9c2fb0"/><circle cx="809.8" cy="217.3" r="0.85" fill="#9c2fb0"/><circle cx="814.4" cy="217.3" r="0.85" fill="#9c2fb0"/><circle cx="828.4" cy="221.1" r="0.85" fill="#9c2fb0"/><circle cx="825.4" cy="220.4" r="0.85" fill="#9c2fb0"/><circle cx="821.6" cy="218.9" r="0.85" fill="#9c2fb0"/><circle cx="821.6" cy="220.2" r="0.85" fill="#9c2fb0"/><circle cx="819.4" cy="219.4" r="0.85" fill="#9c2fb0"/><circle cx="822.3" cy="218.9" r="0.85" fill="#9c2fb0"/><circle cx="823.9" cy="220.3" r="0.85" fill="#9c2fb0"/><circle cx="815.2" cy="217.1" r="0.85" fill="#9c2fb0"/><circle cx="825.9" cy="220.5" r="0.85" fill="#9c2fb0"/><circle cx="823.2" cy="220.6" r="0.85" fill="#9c2fb0"/><circle cx="823.1" cy="220.6" r="0.85" fill="#9c2fb0"/><circle cx="817.0" cy="219.0" r="0.85" fill="#9c2fb0"/><circle cx="817.9" cy="219.4" r="0.85" fill="#9c2fb0"/><circle cx="826.2" cy="219.9" r="0.85" fill="#9c2fb0"/><circle cx="812.1" cy="216.7" r="0.85" fill="#9c2fb0"/><circle cx="827.8" cy="220.9" r="0.85" fill="#9c2fb0"/><circle cx="821.4" cy="219.1" r="0.85" fill="#9c2fb0"/><circle cx="819.1" cy="218.7" r="0.85" fill="#9c2fb0"/><circle cx="816.2" cy="218.4" r="0.85" fill="#9c2fb0"/><circle cx="820.6" cy="220.0" r="0.85" fill="#9c2fb0"/><circle cx="822.5" cy="220.5" r="0.85" fill="#9c2fb0"/><circle cx="831.5" cy="221.6" r="0.6" fill="#b878c8"/><circle cx="833.6" cy="222.2" r="0.6" fill="#b878c8"/><circle cx="836.2" cy="222.6" r="0.6" fill="#b878c8"/><circle cx="823.1" cy="241.7" r="0.8" fill="#9c2fb0"/><circle cx="819.9" cy="240.1" r="0.8" fill="#9c2fb0"/><circle cx="823.1" cy="241.7" r="0.8" fill="#9c2fb0"/><circle cx="823.9" cy="241.4" r="0.8" fill="#9c2fb0"/><circle cx="820.6" cy="240.3" r="0.8" fill="#9c2fb0"/><circle cx="822.6" cy="241.1" r="0.8" fill="#9c2fb0"/><circle cx="813.3" cy="238.6" r="0.8" fill="#9c2fb0"/><circle cx="823.0" cy="241.7" r="0.8" fill="#9c2fb0"/><circle cx="810.0" cy="238.9" r="0.8" fill="#9c2fb0"/><circle cx="815.5" cy="239.2" r="0.8" fill="#9c2fb0"/><circle cx="813.5" cy="239.5" r="0.8" fill="#9c2fb0"/><circle cx="823.3" cy="240.6" r="0.8" fill="#9c2fb0"/><circle cx="818.9" cy="239.7" r="0.8" fill="#9c2fb0"/><circle cx="820.7" cy="240.4" r="0.8" fill="#9c2fb0"/><circle cx="823.5" cy="241.8" r="0.8" fill="#9c2fb0"/><circle cx="817.1" cy="240.5" r="0.8" fill="#9c2fb0"/><circle cx="813.8" cy="238.7" r="0.8" fill="#9c2fb0"/><circle cx="818.7" cy="239.7" r="0.8" fill="#9c2fb0"/><rect x="797.6" y="185.2" width="3.6" height="3.6" rx="1" fill="#3aa0c8"/><rect x="822" y="186.4" width="9" height="0.7" fill="#b0b0b0"/><rect x="822" y="246" width="9" height="0.7" fill="#b0b0b0"/><rect x="860" y="186.4" width="6" height="0.7" fill="#909090"/><rect x="802.2" y="212" width="0.7" height="9" fill="#b0b0b0"/><rect x="852.8" y="189.2" width="20" height="3.8" fill="#2aa3b5"/><rect x="853.8" y="196.4" width="11" height="0.8" fill="#6a6a6a"/><rect x="853.8" y="198.4" width="5" height="0.8" fill="#a8a8a8"/><rect x="853.8" y="202.2" width="12" height="0.8" fill="#6a6a6a"/><rect x="853.8" y="204.2" width="14" height="0.8" fill="#a8a8a8"/><rect x="853.8" y="208.4" width="11" height="0.8" fill="#6a6a6a"/><rect x="853.8" y="210.4" width="13" height="0.8" fill="#a8a8a8"/><rect x="853.8" y="214.6" width="8" height="0.8" fill="#6a6a6a"/><rect x="853.8" y="216.4" width="10" height="0.8" fill="#a8a8a8"/><rect x="853.8" y="219.6" width="7" height="0.8" fill="#6a6a6a"/><rect x="853.8" y="221.6" width="10" height="0.8" fill="#a8a8a8"/><rect x="853.8" y="225.6" width="9" height="0.8" fill="#6a6a6a"/><rect x="853.8" y="227.6" width="12" height="0.8" fill="#a8a8a8"/><rect x="853.8" y="231" width="11" height="0.8" fill="#6a6a6a"/><rect x="853.8" y="233" width="12" height="0.8" fill="#a8a8a8"/><rect x="853.8" y="237" width="11" height="0.8" fill="#6a6a6a"/><rect x="853.8" y="239" width="12" height="0.8" fill="#a8a8a8"/><rect x="853.8" y="243" width="11" height="0.8" fill="#6a6a6a"/><rect x="853.8" y="245" width="12" height="0.8" fill="#a8a8a8"/><rect x="873.6" y="187" width="0.9" height="60" fill="#c4c4c4"/><rect x="876.4" y="187.0" width="26" height="0.7" fill="#8fb4d0"/><path d="M877.2,188.6 V201.0 H902" fill="none" stroke="#b8b8b8" stroke-width="0.4"/><rect x="876.4" y="202.1" width="26" height="0.7" fill="#8fb4d0"/><path d="M877.2,203.7 V216.1 H902" fill="none" stroke="#b8b8b8" stroke-width="0.4"/><rect x="876.4" y="217.2" width="26" height="0.7" fill="#8fb4d0"/><path d="M877.2,218.79999999999998 V231.2 H902" fill="none" stroke="#b8b8b8" stroke-width="0.4"/><rect x="876.4" y="232.29999999999998" width="26" height="0.7" fill="#8fb4d0"/><path d="M877.2,233.89999999999998 V246.29999999999998 H902" fill="none" stroke="#b8b8b8" stroke-width="0.4"/><rect x="877.6" y="191.4" width="2.6" height="9.4" fill="#b4bcc4"/><rect x="886.4" y="197.6" width="4.6" height="3.2" fill="#b4bcc4"/><rect x="894.6" y="191.4" width="6.4" height="9.4" fill="#b4bcc4"/><rect x="895" y="196.6" width="5.6" height="4.2" fill="#2f93c2"/><path d="M878.4,215.6 L879.6,206.4 L881,213.6 L883.4,215.8 L890.4,215.8 L892.6,213.6 L893.8,207 L895.2,215.6 Z" fill="#7fb2d0"/><path d="M879,215.6 L879.8,210 L880.8,215.6 Z M893,215.6 L893.9,210.5 L894.8,215.6Z" fill="#2f93c2"/><path d="M878,231 L880.4,226 L883,223.6 L886.4,221.8 L889,224.6 L893,226.6 L897.6,229 L901,231 Z" fill="#d3e0ea"/><path d="M881.6,231 L883.6,226.6 L885.4,228.4 L887,225 L888.8,229.4 L890.6,231 Z" fill="#4a9dc8"/><path d="M878,246.2 L882.6,242.6 L886.4,238 L890,236.4 L894,240 L898.4,243.6 L901,246.2 Z" fill="#d3e0ea"/><path d="M884.6,246.2 L887,241 L888.8,242.8 L890.4,239.4 L892.4,243.6 L895,246.2 Z" fill="#4a9dc8"/>
<rect x="795.3" y="164.8" width="103.4" height="16.1" fill="#a6e1e0"/>
<rect x="898.7" y="164.8" width="13.2" height="16.1" fill="#7a2a1f"/>
<text x="850.9" y="176.1" font-size="8.6" font-weight="bold" fill="#0a505f" stroke="#0a505f" stroke-width="0.25" text-anchor="middle">Tool</text>
<text x="905.3" y="175.2" font-size="7" font-weight="bold" fill="#fff" text-anchor="middle">X</text>
<g>
<path d="M880.4,296.5 C880.5,284 881,272 884.5,267 C887.5,263 895,261 905.5,257.4 C909,261.5 922,261.5 925.5,257.4 C936,261 943.5,263 946.5,267 C949.5,272 949,284 949.2,296.5 Z" fill="#a6e1e0"/>
<path d="M907,246 H924.4 V257 C921.5,261 910,261 907,257 Z" fill="#d0d0c7"/>
<ellipse cx="899.9" cy="230.5" rx="1.8" ry="3.3" fill="#e1e1d9"/><ellipse cx="931.7" cy="230.5" rx="1.9" ry="3.4" fill="#e1e1d9"/>
<path d="M899.8,228 C898.6,217 899.4,208 904.6,204 C908,201.6 911.6,201 915.6,201 C919.6,201 923.2,201.6 926.6,204 C931.8,208 932.6,217 931.4,228 L930.6,236.5 C929.4,245 923,251.9 915.6,251.9 C908.2,251.9 901.8,245 900.6,236.5 Z" fill="#6b5a4c"/>
<path d="M903,222.6 C903,219 904.6,217.6 908,217.6 H922.4 C926,217.6 927.6,219 927.6,222.6 V234.6 C927.6,238.6 925.4,241 922.4,242.4 C919.4,240.2 911.6,240.2 908.6,242.4 C905.4,241 903,238.6 903,234.6 Z" fill="#e1e1d9"/>
<path d="M911,245 C913.6,246.4 917.6,246.4 920.2,245" stroke="#e1e1d9" stroke-width="1.3" fill="none" stroke-linecap="round"/>
</g>
<polygon points="21.6,363.9 329.1,363.9 347.4,382.15 329.1,400.4 21.6,400.4" fill="#a6e1e0"/>
<polygon points="336.2,363.9 653.7,363.9 672,382.15 653.7,400.4 336.2,400.4 354.5,382.15" fill="#a6e1e0" stroke="#030327" stroke-width="0"/>
<polygon points="661,363.9 955,363.9 973.3,382.15 955,400.4 661,400.4 679.3,382.15" fill="#a6e1e0"/>
<text x="180" y="388.8" font-size="18.4" font-weight="bold" fill="#0a505f" stroke="#0a505f" stroke-width="0.3" text-anchor="middle">Capture</text>
<text x="504" y="388.8" font-size="18.4" font-weight="bold" fill="#0a505f" stroke="#0a505f" stroke-width="0.3" text-anchor="middle">Explore</text>
<text x="817" y="388.8" font-size="18.4" font-weight="bold" fill="#0a505f" stroke="#0a505f" stroke-width="0.3" text-anchor="middle">Discover</text>
</svg>
</body></html>
